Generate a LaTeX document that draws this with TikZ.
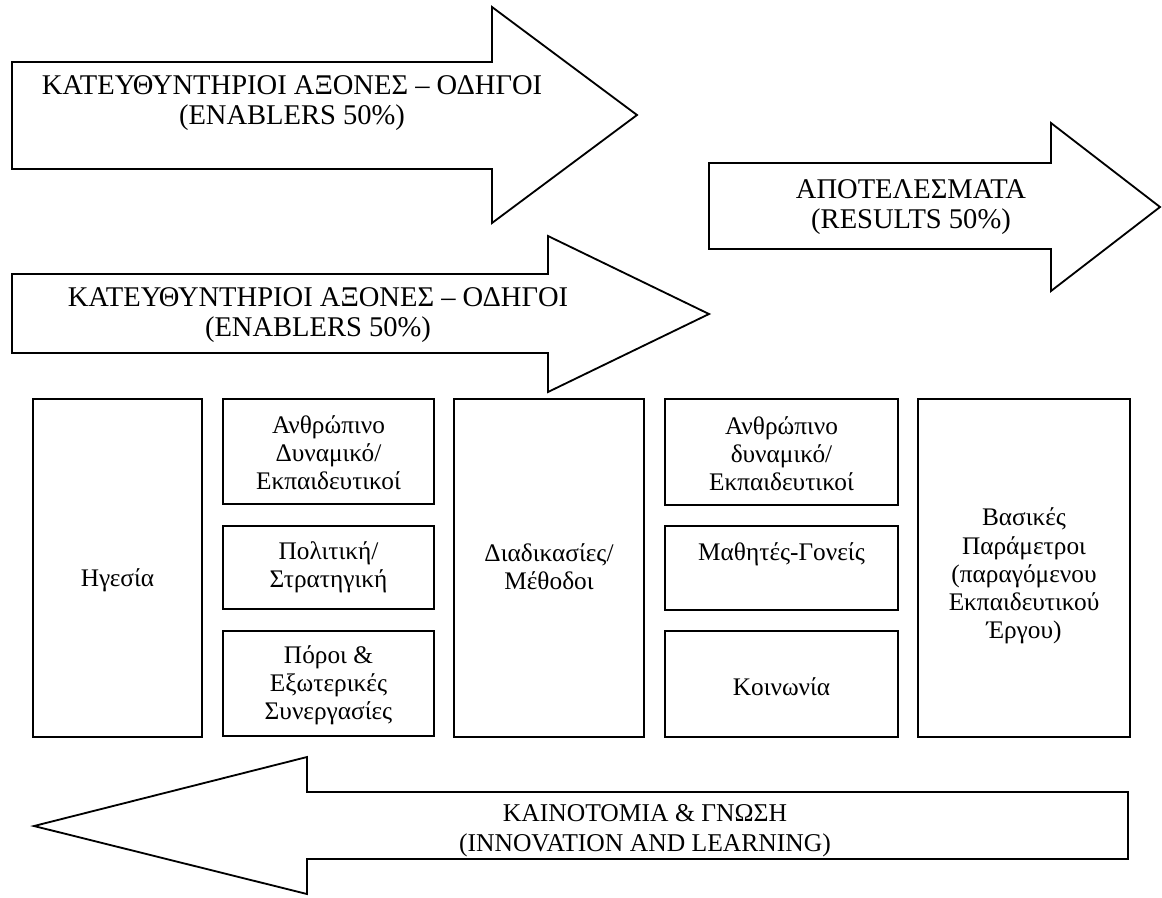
\documentclass[tikz,border=0pt]{standalone}
\usepackage{fontspec}
\setmainfont{Liberation Serif}
\usetikzlibrary{fit}

\newcommand{\boxfont}{\fontsize{18}{20}\selectfont}
\newcommand{\arrowfont}{\fontsize{20.3}{21.3}\selectfont}
\newcommand{\backfont}{\fontsize{18.2}{21.3}\selectfont}

\tikzset{
    box/.style = {draw, line width=1.3pt, fill=white, inner sep=0pt},
    boxtext/.style = {align=center, inner sep=0pt, font=\boxfont},
    bigarrow/.style = {draw, line width=1.3pt, fill=white, line join=miter},
    arrowtext/.style = {align=center, font=\arrowfont},
}

\begin{document}
\begin{tikzpicture}[x=0.025cm, y=-0.025cm]
                \useasboundingbox (0, 0) rectangle (1162, 897);
                % arrows
                \draw [bigarrow] (12, 62) -- (492, 62) -- (492, 7) -- (637, 115) -- (492, 223) -- (492, 169) -- (12, 169) -- cycle;
                \draw [bigarrow] (709, 163) -- (1051, 163) -- (1051, 123) -- (1160, 207) -- (1051, 291) -- (1051, 249) -- (709, 249) -- cycle;
                \draw [bigarrow] (12, 274) -- (548, 274) -- (548, 236) -- (709, 314) -- (548, 392) -- (548, 353) -- (12, 353) -- cycle;
                \draw [bigarrow] (1128, 792) -- (307, 792) -- (307, 757) -- (34, 826) -- (307, 894) -- (307, 859) -- (1128, 859) -- cycle;
                \node [arrowtext] (enablers) at (292, 103) {ΚΑΤΕΥΘΥΝΤΗΡΙΟΙ ΑΞΟΝΕΣ – ΟΔΗΓΟΙ\\(ENABLERS 50\%)};
                \node [arrowtext] (results) at (911, 207) {ΑΠΟΤΕΛΕΣΜΑΤΑ\\(RESULTS 50\%)};
                \node [arrowtext] (enablers2) at (318, 315) {ΚΑΤΕΥΘΥΝΤΗΡΙΟΙ ΑΞΟΝΕΣ – ΟΔΗΓΟΙ\\(ENABLERS 50\%)};
                \node [arrowtext, font=\backfont] (innovation) at (645, 831) {ΚΑΙΝΟΤΟΜΙΑ \& ΓΝΩΣΗ\\(INNOVATION AND LEARNING)};
                % boxes
                \node [box, fit={(33, 399) (202, 737)}] (hegesia) {};
                \node [box, fit={(223, 399) (434, 504)}] (anthropino) {};
                \node [box, fit={(223, 526) (434, 609)}] (politiki) {};
                \node [box, fit={(223, 631) (434, 736)}] (poroi) {};
                \node [box, fit={(454, 399) (644, 737)}] (diadikasies) {};
                \node [box, fit={(665, 399) (898, 505)}] (anthropinob) {};
                \node [box, fit={(665, 526) (898, 610)}] (mathites) {};
                \node [box, fit={(665, 631) (898, 737)}] (koinonia) {};
                \node [box, fit={(918, 399) (1130, 737)}] (basikes) {};
                % box texts
                \node [boxtext] (hegesiatext) at (117.5, 580) {Ηγεσία};
                \node [boxtext] (anthropinotext) at (328.5, 453) {Ανθρώπινο\\Δυναμικό/\\Εκπαιδευτικοί};
                \node [boxtext] (politikitext) at (328.5, 567) {Πολιτική/\\Στρατηγική};
                \node [boxtext] (poroitext) at (328.5, 685) {Πόροι \&\\Εξωτερικές\\Συνεργασίες};
                \node [boxtext] (diadikasiestext) at (549, 567) {Διαδικασίες/\\Μέθοδοι};
                \node [boxtext] (anthropinobtext) at (781.5, 454) {Ανθρώπινο\\δυναμικό/\\Εκπαιδευτικοί};
                \node [boxtext] (mathitestext) at (781.5, 554) {Μαθητές-Γονείς};
                \node [boxtext] (koinoniatext) at (781.5, 687) {Κοινωνία};
                \node [boxtext] (basikestext) at (1024, 576) {Βασικές\\Παράμετροι\\(παραγόμενου\\Εκπαιδευτικού\\Έργου)};
            \end{tikzpicture}
\end{document}
